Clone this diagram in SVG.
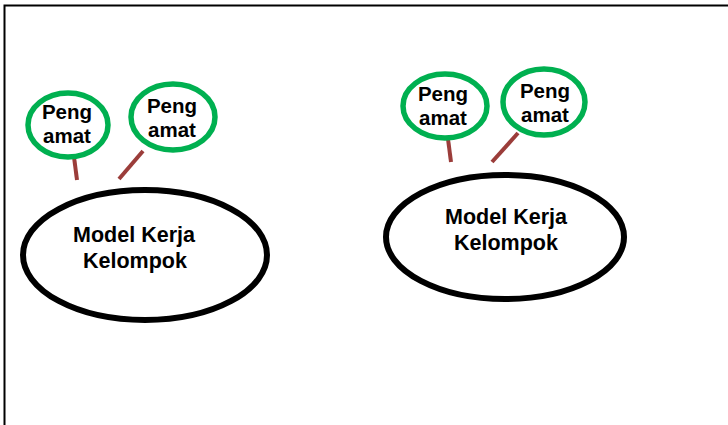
<svg xmlns="http://www.w3.org/2000/svg" width="728" height="425" viewBox="0 0 728 425">
<style>
.obs{fill:#fff;stroke:#00B050;stroke-width:5.5}
.big{fill:#fff;stroke:#000;stroke-width:6}
.t{font-family:"Liberation Sans",Arial,sans-serif;font-weight:bold;fill:#000;text-anchor:middle}
.s{font-size:20.5px}
.b{font-size:21.5px}
.c{stroke:#9B3D3A;stroke-width:4;fill:none}
</style>
<rect width="728" height="425" fill="#fff"/>
<path d="M4.5 425 V5.5 H728" fill="none" stroke="#000" stroke-width="2"/>
<g id="connectors">
<line class="c" x1="74" y1="157" x2="77" y2="180"/>
<line class="c" x1="143" y1="151" x2="119" y2="179"/>
<line class="c" x1="448" y1="139" x2="451" y2="162"/>
<line class="c" x1="518" y1="133" x2="492" y2="162"/>
</g>
<g id="obs1"><ellipse class="obs" cx="68" cy="125" rx="40" ry="32"/><text class="t s" x="67" y="119">Peng</text><text class="t s" x="67" y="143">amat</text></g>
<g id="obs2"><ellipse class="obs" cx="173" cy="117" rx="42" ry="33"/><text class="t s" x="172" y="113">Peng</text><text class="t s" x="172" y="137">amat</text></g>
<g id="model1"><ellipse class="big" cx="145" cy="255" rx="122" ry="65"/><text class="t b" x="134" y="242">Model Kerja</text><text class="t b" x="135" y="268">Kelompok</text></g>
<g id="obs3"><ellipse class="obs" cx="445" cy="106" rx="42" ry="32"/><text class="t s" x="443" y="101">Peng</text><text class="t s" x="443" y="125">amat</text></g>
<g id="obs4"><ellipse class="obs" cx="544" cy="102" rx="41" ry="33"/><text class="t s" x="545" y="98">Peng</text><text class="t s" x="545" y="122">amat</text></g>
<g id="model2"><ellipse class="big" cx="505" cy="237" rx="119" ry="62"/><text class="t b" x="506" y="224">Model Kerja</text><text class="t b" x="506" y="250">Kelompok</text></g>
</svg>
